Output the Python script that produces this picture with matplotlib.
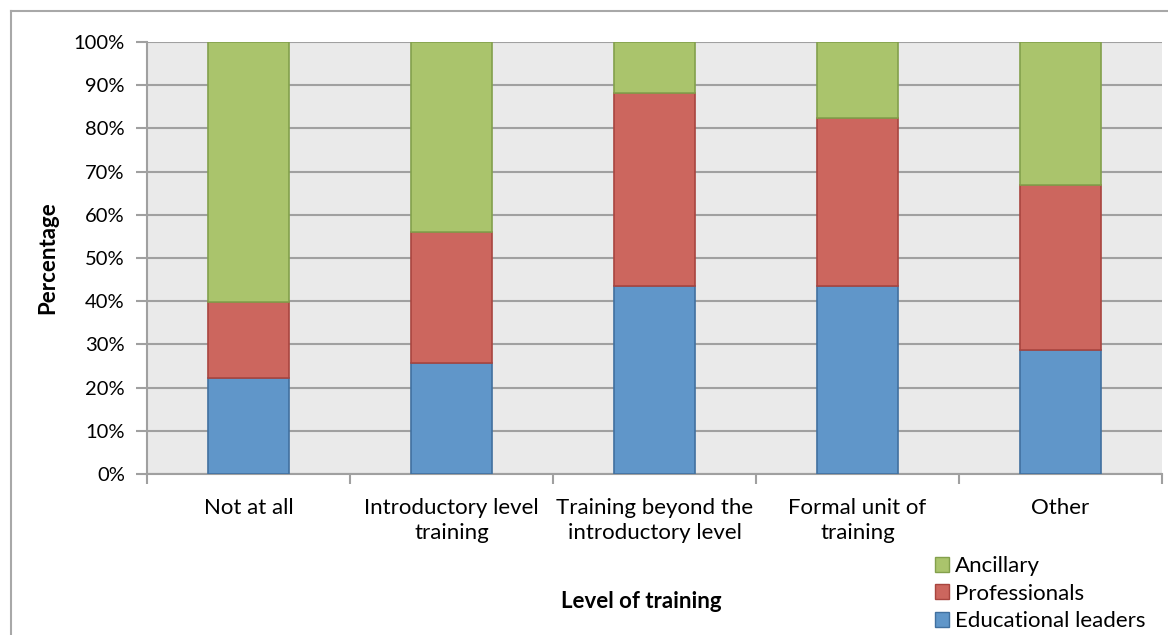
import matplotlib.pyplot as plt
from matplotlib.lines import Line2D
from matplotlib.patches import Patch
import numpy as np

categories = ['Not at all', 'Introductory level\ntraining', 'Training beyond the\nintroductory level',
              'Formal unit of\ntraining', 'Other']
educational_leaders = [22.2, 25.8, 43.6, 43.6, 28.6]
professionals = [17.6, 30.2, 44.5, 38.8, 38.3]
ancillary = [60.2, 44.0, 11.9, 17.6, 33.1]

plt.rcParams['font.family'] = ['Lato', 'DejaVu Sans']

fig = plt.figure(figsize=(11.68, 6.35), dpi=100)
ax = fig.add_axes([147 / 1168, 1 - 474 / 635, 1015 / 1168, 432 / 635])
ax.set_facecolor('#eaeaea')

x = np.arange(len(categories))
w = 0.4
ax.bar(x, educational_leaders, w, color='#6096c9', edgecolor='#41709f', linewidth=1.2, zorder=3)
ax.bar(x, professionals, w, bottom=educational_leaders, color='#cc665e', edgecolor='#a8453f',
       linewidth=1.2, zorder=3)
bottom3 = np.array(educational_leaders) + np.array(professionals)
ax.bar(x, ancillary, w, bottom=bottom3, color='#aac46c', edgecolor='#83a04c', linewidth=1.2, zorder=3)

ax.set_xlim(-0.5, len(categories) - 0.5)
ax.set_ylim(0, 100)
ax.set_yticks(np.arange(0, 101, 10))
ax.set_yticklabels(['{}%'.format(v) for v in range(0, 101, 10)])
ax.yaxis.grid(True, color='#a0a0a0', linewidth=1.5, zorder=0)
ax.set_axisbelow(True)

ax.set_xticks(x)
ax.set_xticklabels(categories, linespacing=1.3)
ax.set_xticks(np.arange(-0.5, len(categories)), minor=True)
ax.tick_params(axis='x', which='major', length=0, pad=17.5, labelsize=16)
ax.tick_params(axis='x', which='minor', length=7, width=1.5, color='#a0a0a0', direction='out')
ax.tick_params(axis='y', length=8, width=1.5, color='#a0a0a0', labelsize=14.5, pad=8)

for s in ['top', 'right']:
    ax.spines[s].set_visible(False)
for s in ['left', 'bottom']:
    ax.spines[s].set_color('#a0a0a0')
    ax.spines[s].set_linewidth(1.5)

ax.set_ylabel('Percentage', fontsize=16, fontweight='bold', labelpad=11)
fig.text(641 / 1168, 1 - 601 / 635, 'Level of training', fontsize=16, fontweight='bold',
         ha='center', va='center')

handles = [Patch(facecolor='#aac46c', edgecolor='#83a04c'),
           Patch(facecolor='#cc665e', edgecolor='#a8453f'),
           Patch(facecolor='#6096c9', edgecolor='#41709f')]
fig.legend(handles, ['Ancillary', 'Professionals', 'Educational leaders'], loc='upper left',
           bbox_to_anchor=(935 / 1168, 1 - 556 / 635), frameon=False, fontsize=16,
           handlelength=0.65, handleheight=0.65, handletextpad=0.25, labelspacing=0.34,
           borderpad=0, borderaxespad=0)

# outer chart border (cropped at right and bottom)
fig.add_artist(Line2D([11 / 1168, 11 / 1168], [0, 1 - 11 / 635], color='#a8a8a8', linewidth=1.5,
                      transform=fig.transFigure))
fig.add_artist(Line2D([11 / 1168, 1], [1 - 11 / 635, 1 - 11 / 635], color='#a8a8a8', linewidth=1.5,
                      transform=fig.transFigure))

fig.savefig('out.png', dpi=100)
